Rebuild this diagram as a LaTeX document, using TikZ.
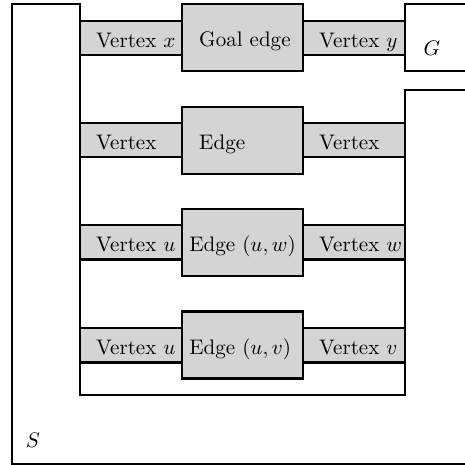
\documentclass[tikz,border=0pt]{standalone}
\tikzset{
  vband/.style={draw,line width=1pt,fill=black!17,minimum width=48.5pt,minimum height=16.2pt,inner sep=0pt},
  ebox/.style={draw,line width=1pt,fill=black!17,minimum width=57.5pt,minimum height=31.8pt,inner sep=0pt},
  tlab/.style={anchor=base west,inner sep=0pt}
}
\begin{document}
\begin{tikzpicture}[x=0.475pt,y=0.475pt]
\useasboundingbox (0,0) rectangle (465,465);
\clip (0,0) rectangle (465,465);

%S 與 G 的邊界
\draw[line width=1pt] (480,1) -- (12,1) -- (12,461) -- (80,461) -- (80,70) -- (405,70) -- (405,375) -- (480,375);
\draw[line width=1pt] (480,394) -- (405,394) -- (405,461) -- (480,461);
\node[inner sep=0pt] (nGPt) at (432,417) {$G$};
\node[inner sep=0pt] (nSPt) at (33,25) {$S$};

%第一列
\node[vband] (nXPt) at (131,427) {};
\node[vband] (nYPt) at (354,427) {};
\node[ebox] (nGoalPt) at (242.5,427.5) {};
\node[tlab] at ([xshift=8pt,yshift=-4.3pt]nXPt.west) {Vertex $x$};
\node[tlab] at ([xshift=8pt,yshift=-4.3pt]nYPt.west) {Vertex $y$};
\node[tlab] at ([xshift=8.5pt,yshift=-4.3pt]nGoalPt.west) {Goal edge};

%第二列
\node[vband] (nALPt) at (131,325) {};
\node[vband] (nARPt) at (354,325) {};
\node[ebox] (nAPt) at (242.5,324.5) {};
\node[tlab] at ([xshift=8pt,yshift=-4.3pt]nALPt.west) {Vertex};
\node[tlab] at ([xshift=8pt,yshift=-4.3pt]nARPt.west) {Vertex};
\node[tlab] at ([xshift=8.5pt,yshift=-4.3pt]nAPt.west) {Edge};

%第三列
\node[vband] (nULPt) at (131,222.5) {};
\node[vband] (nWPt) at (354,222.5) {};
\node[ebox] (nUWPt) at (242.5,222.5) {};
\node[tlab] at ([xshift=8pt,yshift=-4.3pt]nULPt.west) {Vertex $u$};
\node[tlab] at ([xshift=8pt,yshift=-4.3pt]nWPt.west) {Vertex $w$};
\node[tlab] at ([xshift=3.8pt,yshift=-4.3pt]nUWPt.west) {Edge $(u,w)$};

%第四列
\node[vband] (nUPt) at (131,119.5) {};
\node[vband] (nVPt) at (354,119.5) {};
\node[ebox] (nUVPt) at (242.5,120) {};
\node[tlab] at ([xshift=8pt,yshift=-4.3pt]nUPt.west) {Vertex $u$};
\node[tlab] at ([xshift=8pt,yshift=-4.3pt]nVPt.west) {Vertex $v$};
\node[tlab] at ([xshift=3.8pt,yshift=-4.3pt]nUVPt.west) {Edge $(u,v)$};

\end{tikzpicture}
\end{document}
